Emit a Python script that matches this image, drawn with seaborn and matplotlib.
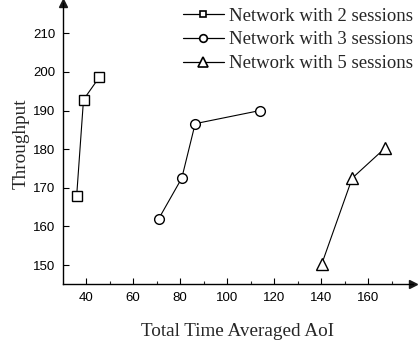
import matplotlib
matplotlib.use("Agg")
import matplotlib.pyplot as plt
from matplotlib.lines import Line2D
import seaborn as sns
import pandas as pd

series_names = ["Network with 2 sessions", "Network with 3 sessions", "Network with 5 sessions"]
aoi_2 = [36.0, 38.9, 45.6]
thr_2 = [168.0, 192.8, 198.6]
aoi_3 = [70.9, 80.7, 86.4, 114.0]
thr_3 = [162.0, 172.5, 186.6, 190.0]
aoi_5 = [140.2, 153.2, 167.2]
thr_5 = [150.2, 172.5, 180.3]
x_ticks = [40, 60, 80, 100, 120, 140, 160]
y_ticks = [150, 160, 170, 180, 190, 200, 210]

sns.set_theme(style="ticks")
plt.rcParams["font.family"] = ["Liberation Sans", "DejaVu Sans"]

fig = plt.figure(figsize=(4.2, 3.43), dpi=100)
ax = fig.add_axes([0.149, 0.173, 0.834, 0.818])

markers = ["s", "o", "^"]
msizes = [6.5, 7.0, 9.0]
leg_msizes = [5.0, 5.5, 7.0]
datasets = [(aoi_2, thr_2), (aoi_3, thr_3), (aoi_5, thr_5)]
handles = []
for name, (xs, ys), m, ms, lms in zip(series_names, datasets, markers, msizes, leg_msizes):
    df = pd.DataFrame({"aoi": xs, "thr": ys})
    sns.lineplot(data=df, x="aoi", y="thr", ax=ax, color="black", linewidth=0.8,
                 marker=m, markersize=ms, markerfacecolor="white",
                 markeredgecolor="black", markeredgewidth=1.0, sort=False,
                 estimator=None, legend=False)
    handles.append(Line2D([], [], color="black", linewidth=0.9, marker=m,
                          markersize=lms, markerfacecolor="white",
                          markeredgecolor="black", markeredgewidth=1.2))

ax.set_xlim(30, 179)
ax.set_ylim(145.2, 217.8)
ax.set_xticks(x_ticks)
ax.set_yticks(y_ticks)
ax.set_xticks([50, 70, 90, 110, 130, 150, 170], minor=True)
ax.tick_params(axis="both", direction="in", length=4, width=0.8, labelsize=9.5,
               colors="black")
ax.tick_params(axis="x", pad=6)
ax.tick_params(axis="y", pad=5)
ax.tick_params(axis="x", which="minor", direction="in", length=2, width=0.8)
for s in ["top", "right"]:
    ax.spines[s].set_visible(False)
for s in ["left", "bottom"]:
    ax.spines[s].set_linewidth(1.0)
    ax.spines[s].set_color("black")

# arrow heads
ax.plot(1, 0, ">k", transform=ax.transAxes, clip_on=False, markersize=5.5)
ax.plot(0, 1, "^k", transform=ax.transAxes, clip_on=False, markersize=5.5)

ax.set_xlabel("Total Time Averaged AoI", family="Liberation Serif", fontsize=13.8, labelpad=14)
ax.set_ylabel("Throughput", family="Liberation Serif", fontsize=13.8, labelpad=3)

leg = ax.legend(handles, series_names, loc="upper right",
                bbox_to_anchor=(413 / 420, 1 - 7.5 / 343), bbox_transform=fig.transFigure,
                frameon=False, prop={"family": "Liberation Serif", "size": 13.5},
                handlelength=2.2, handletextpad=0.27, labelspacing=0.36,
                borderaxespad=0.0, borderpad=0.0)

fig.savefig("out.png", dpi=100)
